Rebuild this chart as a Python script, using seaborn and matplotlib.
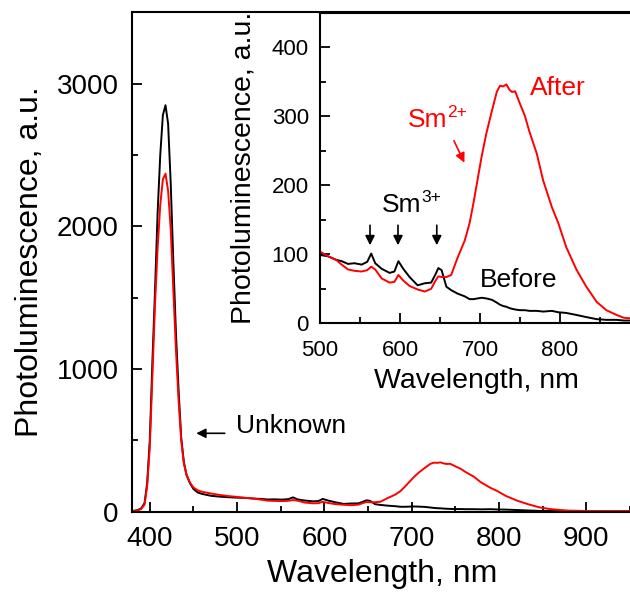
import matplotlib
matplotlib.use("Agg")
import matplotlib.pyplot as plt
import pandas as pd
import seaborn as sns
from matplotlib.ticker import MultipleLocator

# Wavelength grid (nm) shared by both spectra
wavelength = [
    380, 385, 390, 394, 397, 400, 403, 406, 409, 412, 415, 418, 421, 424,
    427, 430, 433, 436, 439, 442, 446, 450, 455, 460, 470, 480, 490, 500,
    510, 520, 527, 535, 543, 552, 559, 564, 569, 577, 587, 593, 598, 604,
    612, 622, 631, 639, 644, 648, 652, 658, 664, 672, 681, 687, 692, 702,
    708, 715, 721, 725, 729, 733, 737, 740, 744, 750, 756, 762, 771, 779,
    790, 798, 808, 821, 833, 846, 858, 871, 880, 890, 905, 920, 935, 950,
]

# PL before treatment (black)
pl_before = [
    5, 10, 22, 60, 200, 500, 1050, 1550, 2100, 2500, 2780, 2850, 2720, 2300,
    1750, 1250, 850, 520, 350, 260, 200, 160, 135, 125, 112, 106, 102, 99,
    97, 92, 90, 86, 87, 85, 89, 101, 87, 79, 73, 75, 90, 79,
    67, 55, 58, 59, 70, 80, 77, 53, 48, 43, 39, 35, 35, 37,
    36, 34, 30, 27, 25, 24, 22, 21, 20, 19, 19, 18, 18, 17,
    18, 16, 15, 12, 9, 6, 5, 5, 4, 4, 3, 3, 2, 2,
]

# PL after treatment (red)
pl_after = [
    5, 8, 18, 50, 180, 450, 950, 1450, 1850, 2150, 2330, 2370, 2250, 1980,
    1550, 1130, 780, 500, 340, 260, 205, 170, 150, 140, 128, 118, 110, 104,
    97, 92, 85, 78, 76, 75, 77, 82, 78, 65, 59, 60, 70, 62,
    54, 49, 46, 50, 61, 68, 67, 67, 70, 95, 120, 145, 175, 241,
    275, 308, 335, 344, 343, 346, 338, 335, 336, 318, 301, 277, 246, 207,
    168, 145, 110, 77, 53, 31, 19, 12, 8, 7, 5, 5, 5, 5,
]

df = pd.DataFrame({
    "wl": wavelength * 2,
    "pl": pl_before + pl_after,
    "series": ["Before"] * len(wavelength) + ["After"] * len(wavelength),
})
colors = {"Before": "black", "After": "red"}

sns.set_theme(style="ticks")
plt.rcParams["font.family"] = ["Liberation Sans", "DejaVu Sans"]
plt.rcParams["text.color"] = "black"
plt.rcParams["axes.labelcolor"] = "black"

fig = plt.figure(figsize=(6.3, 5.93), dpi=100)


def style_axes(ax, tick_size, xpad, ypad):
    for s in ax.spines.values():
        s.set_linewidth(1.5)
        s.set_color("black")
    ax.tick_params(which="both", direction="in", colors="black",
                   labelsize=tick_size, width=1.3)
    ax.tick_params(which="major", length=7)
    ax.tick_params(which="minor", length=4)
    ax.tick_params(axis="x", which="both", pad=xpad)
    ax.tick_params(axis="y", which="both", pad=ypad)


def ion_label(ax, x, y, sup, color):
    # "Sm" with a small raised charge, like the original figure
    t = ax.text(x, y, "Sm", color=color, fontsize=19, ha="left", va="center")
    ax.annotate(sup, xy=(1.0, 0.78), xycoords=t, color=color, fontsize=12.5,
                ha="left", va="center")


# main panel
ax = fig.add_axes([0.21, 0.137, 0.793, 0.842])
sns.lineplot(data=df, x="wl", y="pl", hue="series", palette=colors,
             hue_order=["Before", "After"], estimator=None, sort=False,
             linewidth=1.4, legend=False, ax=ax)
ax.set_xlim(380, 952)
ax.set_ylim(0, 3500)
ax.xaxis.set_major_locator(MultipleLocator(100))
ax.xaxis.set_minor_locator(MultipleLocator(50))
ax.yaxis.set_major_locator(MultipleLocator(1000))
ax.yaxis.set_minor_locator(MultipleLocator(500))
style_axes(ax, 20, 10, 10)
ax.set_xlabel("Wavelength, nm", fontsize=23, labelpad=5)
ax.set_ylabel("Photoluminescence, a.u.", fontsize=23, labelpad=8)
ax.annotate("", xy=(450, 550), xytext=(489, 550),
            arrowprops=dict(arrowstyle="-|>", color="black", lw=1.2,
                            mutation_scale=14))
ax.text(499, 600, "Unknown", fontsize=19, ha="left", va="center")

# inset
axi = fig.add_axes([0.508, 0.4548, 0.495, 0.524])
axi.set_facecolor("white")
sns.lineplot(data=df, x="wl", y="pl", hue="series", palette=colors,
             hue_order=["Before", "After"], estimator=None, sort=False,
             linewidth=1.4, legend=False, ax=axi)
axi.set_xlim(500, 890)
axi.set_ylim(0, 450)
axi.xaxis.set_major_locator(MultipleLocator(100))
axi.xaxis.set_minor_locator(MultipleLocator(50))
axi.yaxis.set_major_locator(MultipleLocator(100))
axi.yaxis.set_minor_locator(MultipleLocator(50))
style_axes(axi, 16, 12, 8)
axi.set_xlabel("Wavelength, nm", fontsize=20.5, labelpad=5)
axi.set_ylabel("Photoluminescence, a.u.", fontsize=20.5, labelpad=11)

axi.text(762, 341, "After", color="red", fontsize=19, ha="left", va="center")
ion_label(axi, 610, 295, "2+", "red")
axi.annotate("", xy=(682, 229), xytext=(666, 268),
             arrowprops=dict(arrowstyle="-|>", color="red", lw=1.2,
                             mutation_scale=14))
ion_label(axi, 577, 172, "3+", "black")
for x in [562.5, 597.5, 646]:
    axi.annotate("", xy=(x, 109), xytext=(x, 146),
                 arrowprops=dict(arrowstyle="-|>", color="black", lw=1.2,
                                 mutation_scale=14))
axi.text(700, 63, "Before", color="black", fontsize=19, ha="left", va="center")

fig.savefig("out.png", dpi=100)
